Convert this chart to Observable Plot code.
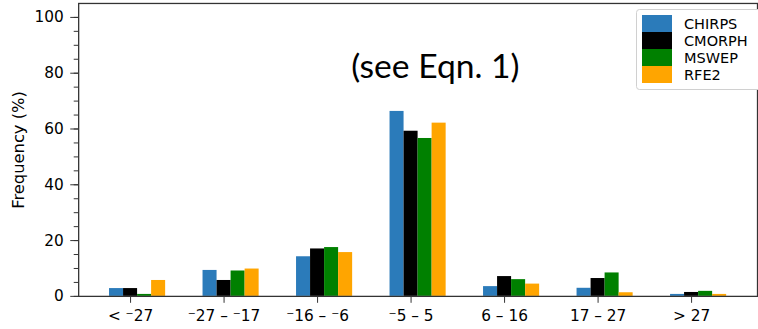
<!DOCTYPE html>
<html>
<head>
<meta charset="utf-8">
<script src="https://cdn.jsdelivr.net/npm/d3@7"></script>
<script src="https://cdn.jsdelivr.net/npm/@observablehq/plot@0.6"></script>
<style>
  html, body { margin: 0; padding: 0; background: #fff; overflow: hidden; }
  #wrap { position: relative; width: 758px; height: 329px; overflow: hidden; }
  #wrap svg { display: block; }
  #legend { position: absolute; left: 0; top: 0; }
</style>
</head>
<body>
<div id="wrap"></div>
<script>
// Rainfall-difference bins (mm) along the x axis
const bins = ["< \u207B27", "\u207B27 \u2013 \u207B17", "\u207B16 \u2013 \u207B6", "\u207B5 \u2013 5", "6 \u2013 16", "17 \u2013 27", "> 27"];

// Products compared, and their bar colours
const products = ["CHIRPS", "CMORPH", "MSWEP", "RFE2"];
const colors = ["#2b7bba", "#000000", "#008000", "#ffa500"];

// Frequency (%) of each bin, one list per product
const chirps = [2.8, 9.3, 14.2, 66.3, 3.5, 2.9, 0.7];
const cmorph = [2.8, 5.7, 17.0, 59.2, 7.1, 6.4, 1.4];
const mswep  = [0.7, 9.1, 17.5, 56.6, 6.0, 8.4, 1.8];
const rfe2   = [5.7, 9.8, 15.7, 62.1, 4.4, 1.3, 0.7];

const note = "(see Eqn. 1)";

const series = [chirps, cmorph, mswep, rfe2];
const barWidth = 0.15;
const rows = [];
series.forEach((vals, j) => vals.forEach((v, i) => rows.push({
  bin: i, product: products[j], slot: j, value: v
})));

const chart = Plot.plot({
  width: 766,
  height: 329,
  marginLeft: 79,
  marginRight: 1,
  marginTop: 3,
  marginBottom: 30,
  style: { fontFamily: "DejaVu Sans, sans-serif", fontSize: "15px", background: "#fff", color: "#000" },
  x: { type: "linear", domain: [-0.555, 6.705] },
  y: { domain: [0, 105] },
  color: { domain: products, range: colors },
  marks: [
    Plot.rectY(rows, {
      x1: d => d.bin + (d.slot - 1) * barWidth - barWidth / 2,
      x2: d => d.bin + (d.slot - 1) * barWidth + barWidth / 2,
      y: "value",
      fill: "product"
    }),
    Plot.axisY({ ticks: d3.range(0, 105, 5), tickSize: 4.5, text: null, label: null, stroke: "#333" }),
    Plot.axisY({
      ticks: d3.range(0, 101, 20), tickSize: 8, tickPadding: 7, fontSize: 15.5,
      stroke: "#333", label: null
    }),
    Plot.text(["Frequency (%)"], {
      frameAnchor: "left", dx: -61, rotate: -90, text: d => d,
      fontSize: 16.5, textAnchor: "middle", lineAnchor: "middle", fill: "#000"
    }),
    Plot.axisX({
      ticks: d3.range(bins.length), tickFormat: i => bins[i], tickSize: 7, tickPadding: 7,
      fontSize: 15.5, stroke: "#333", label: null
    }),
    Plot.frame({ stroke: "#333", strokeWidth: 1.3 }),
    Plot.text([note], {
      x: 3.26, y: 82.2, text: d => d, fontSize: 34, fontFamily: "Lato, sans-serif",
      textAnchor: "middle", lineAnchor: "middle", fill: "#000"
    })
  ]
});

const wrap = document.getElementById("wrap");
wrap.append(chart);

// Legend box in the upper-right corner, keyed to the bar colours
const box = { left: 636, top: 9, width: 126, height: 80, pad: 6, swatch: 30, row: 17, gap: 12 };
const leg = d3.select(wrap).append("svg")
  .attr("id", "legend")
  .attr("width", 758).attr("height", 100)
  .style("font-family", "DejaVu Sans, sans-serif")
  .style("font-size", "14.5px");
leg.append("rect")
  .attr("x", box.left + 0.5).attr("y", box.top + 0.5)
  .attr("width", box.width).attr("height", box.height)
  .attr("rx", 3).attr("fill", "#fff").attr("stroke", "#d0d0d0");
const item = leg.selectAll("g.item").data(products).join("g")
  .attr("class", "item")
  .attr("transform", (d, j) => `translate(${box.left + 6},${box.top + box.pad + j * box.row})`);
item.append("rect")
  .attr("width", box.swatch).attr("height", box.row)
  .attr("fill", (d, j) => colors[j]);
item.append("text")
  .attr("x", box.swatch + box.gap).attr("y", box.row / 2).attr("dy", "0.36em")
  .attr("fill", "#000").text(d => d);
</script>
</body>
</html>
